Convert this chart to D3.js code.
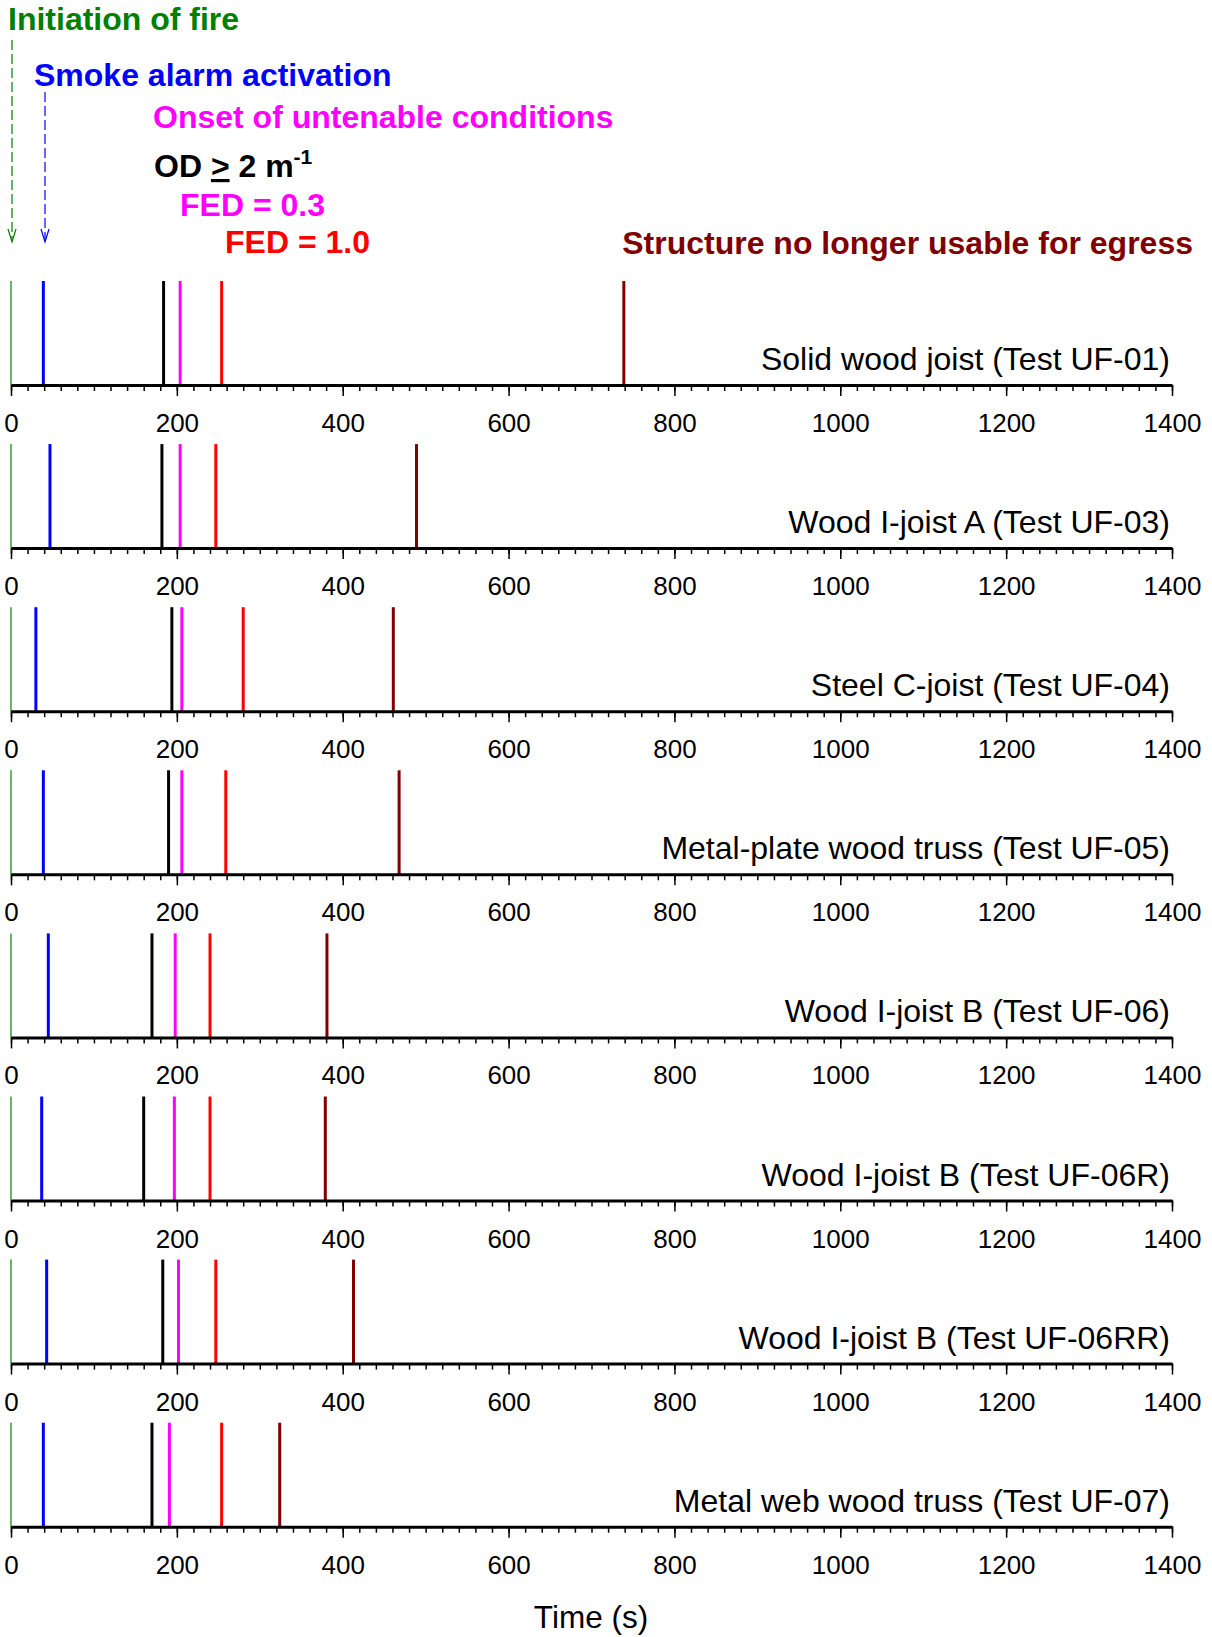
<!DOCTYPE html>
<html lang="en">
<head>
  <meta charset="UTF-8" />
  <title>Tenability timeline</title>
  <script src="https://d3js.org/d3.v7.min.js"></script>
  <style>
    body { margin: 0; background: #fff; }
    text { font-family: "Liberation Sans", Arial, sans-serif; }
  </style>
</head>
<body>
  <div id="chart"></div>
  <script>
    // test labels, one panel each
    var tests = [
      'Solid wood joist (Test UF-01)',
      'Wood I-joist A (Test UF-03)',
      'Steel C-joist (Test UF-04)',
      'Metal-plate wood truss (Test UF-05)',
      'Wood I-joist B (Test UF-06)',
      'Wood I-joist B (Test UF-06R)',
      'Wood I-joist B (Test UF-06RR)',
      'Metal web wood truss (Test UF-07)'
    ];

    // event times (s)
    var ignition   = [0, 0, 0, 0, 0, 0, 0, 0];
    var smokeAlarm = [39, 47, 30, 39, 45, 37, 43, 39];
    var odTwo      = [184, 182, 194, 190, 170, 160, 183, 170];
    var fed03      = [204, 204, 206, 206, 198, 197, 202, 191];
    var fed10      = [254, 247, 280, 259, 240, 240, 247, 254];
    var egress     = [739, 489, 461, 468, 381, 379, 413, 324];

    var majorTicks = [0, 200, 400, 600, 800, 1000, 1200, 1400];

    var events = [
      { values: ignition,   color: '#008000', width: 1.2 },
      { values: smokeAlarm, color: '#0000ff', width: 3 },
      { values: odTwo,      color: '#000000', width: 3 },
      { values: fed03,      color: '#ff00ff', width: 3 },
      { values: fed10,      color: '#ff0000', width: 3 },
      { values: egress,     color: '#800000', width: 3 }
    ];

    var width = 1212, height = 1637;
    var firstAxisY = 385, panelStep = 163.1, lineHeight = 104;

    var svg = d3.select('#chart').append('svg')
      .attr('width', width)
      .attr('height', height);

    var x = d3.scaleLinear().domain([0, 1400]).range([11, 1172]);

    // legend
    var legend = svg.append('g').attr('font-weight', 'bold').attr('font-size', 32);

    legend.append('text').attr('x', 8).attr('y', 30).attr('fill', '#008000').text('Initiation of fire');
    legend.append('text').attr('x', 34).attr('y', 86).attr('fill', '#0000ff').text('Smoke alarm activation');
    legend.append('text').attr('x', 153).attr('y', 128).attr('fill', '#ff00ff').text('Onset of untenable conditions');

    var od = legend.append('text').attr('x', 154).attr('y', 177).attr('fill', '#000');
    od.append('tspan').text('OD ');
    od.append('tspan').style('text-decoration', 'underline').text('>');
    od.append('tspan').text(' 2 m');
    od.append('tspan').attr('font-size', 21).attr('dy', -13).text('-1');

    legend.append('text').attr('x', 180).attr('y', 216).attr('fill', '#ff00ff').text('FED = 0.3');
    legend.append('text').attr('x', 225).attr('y', 253).attr('fill', '#ff0000').text('FED = 1.0');
    legend.append('text').attr('x', 1193).attr('y', 254).attr('text-anchor', 'end')
      .attr('fill', '#800000').text('Structure no longer usable for egress');

    // dashed pointers with open arrowheads
    [{ x: 12, y1: 40, color: '#008000' }, { x: 45, y1: 92, color: '#0000ff' }].forEach(function (p) {
      var tipY = 242;
      legend.append('line')
        .attr('x1', p.x).attr('x2', p.x).attr('y1', p.y1).attr('y2', tipY - 1)
        .attr('stroke', p.color).attr('stroke-width', 1.2)
        .attr('stroke-dasharray', '10,4');
      legend.append('path')
        .attr('d', d3.line()([[p.x - 4, tipY - 13], [p.x, tipY], [p.x + 4, tipY - 13]]))
        .attr('fill', 'none')
        .attr('stroke', p.color)
        .attr('stroke-width', 1.2);
    });

    // panels
    tests.forEach(function (name, i) {
      var axisY = firstAxisY + i * panelStep;
      var g = svg.append('g').attr('transform', 'translate(0,' + axisY + ')');

      events.forEach(function (ev) {
        g.append('line')
          .attr('x1', x(ev.values[i])).attr('x2', x(ev.values[i]))
          .attr('y1', -lineHeight).attr('y2', 0)
          .attr('stroke', ev.color)
          .attr('stroke-width', ev.width);
      });

      g.append('text')
        .attr('x', 1170).attr('y', -15)
        .attr('text-anchor', 'end')
        .attr('font-size', 32)
        .attr('fill', '#000')
        .text(name);

      // minor ticks every 20 s
      var minor = g.append('g')
        .call(d3.axisBottom(x).tickValues(d3.range(0, 1401, 20)).tickSize(6).tickSizeOuter(0).tickFormat(''));
      minor.select('.domain').remove();
      minor.selectAll('line').attr('stroke-width', 1.5);

      var major = g.append('g')
        .call(d3.axisBottom(x).tickValues(majorTicks).tickSize(11).tickSizeOuter(0).tickFormat(d3.format('d')));
      major.select('.domain').attr('stroke-width', 3);
      major.selectAll('line').attr('stroke-width', 1.5);
      major.selectAll('text')
        .attr('font-size', 26)
        .attr('font-family', '"Liberation Sans", Arial, sans-serif')
        .attr('y', 47).attr('dy', 0)
        .attr('fill', '#000');
    });

    svg.append('text')
      .attr('x', 591).attr('y', 1628)
      .attr('text-anchor', 'middle')
      .attr('font-size', 31.5)
      .text('Time (s)');
  </script>
</body>
</html>
